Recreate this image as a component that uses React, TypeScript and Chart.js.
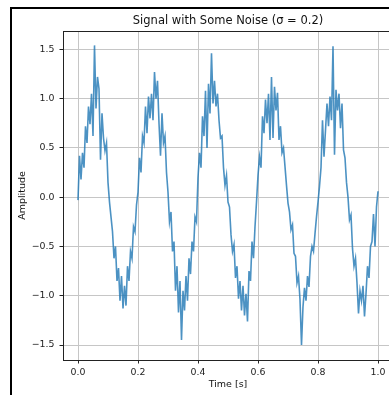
import React, { useEffect, useRef } from "react";
import { Chart, registerables } from "chart.js";

Chart.register(...registerables);

// Sampling interval of the signal (seconds)
const TIME_STEP = 0.005;

// Amplitude, one cycle (0.2 s) per array
const cycle1 = [-0.03, 0.42, 0.18, 0.45, 0.3, 0.72, 0.55, 0.92, 0.74, 1.05, 0.62, 1.54, 0.9, 1.22, 1.1, 0.38, 0.85, 0.6, 0.47, 0.55, 0.15, -0.05, -0.2, -0.35, -0.62, -0.5, -0.85, -0.72, -1.05, -0.8, -1.13, -0.9, -1.1, -0.7, -0.85, -0.55, -0.62, -0.3, -0.35, -0.08];
const cycle2 = [0.05, 0.4, 0.25, 0.62, 0.55, 0.92, 0.65, 1.02, 0.8, 1.05, 0.78, 1.27, 1.0, 1.18, 0.75, 0.42, 0.85, 0.55, 0.62, 0.25, 0.05, -0.25, -0.15, -0.55, -0.45, -0.95, -0.7, -1.17, -0.85, -1.45, -0.95, -1.15, -0.8, -1.05, -0.62, -0.78, -0.45, -0.55, -0.2, -0.25];
const cycle3 = [0.2, 0.45, 0.3, 0.82, 0.62, 1.08, 0.5, 1.15, 0.85, 1.46, 0.95, 1.18, 0.92, 1.05, 0.78, 0.6, 0.62, 0.3, 0.12, 0.22, -0.05, -0.1, -0.38, -0.55, -0.48, -0.82, -0.7, -1.03, -0.85, -1.15, -0.9, -1.2, -0.98, -1.26, -0.75, -0.85, -0.45, -0.62, -0.3, -0.05];
const cycle4 = [0.22, 0.41, 0.3, 0.82, 0.65, 0.99, 0.75, 1.05, 0.58, 1.22, 0.6, 1.12, 0.88, 1.06, 0.58, 0.72, 0.45, 0.5, 0.31, 0.12, -0.06, -0.15, -0.33, -0.28, -0.57, -0.6, -0.87, -0.8, -1.04, -1.5, -1.11, -0.92, -1.05, -0.8, -0.91, -0.6, -0.5, -0.55, -0.37, -0.2];
const cycle5 = [-0.05, 0.11, 0.3, 0.78, 0.41, 0.68, 0.95, 0.72, 1.02, 0.78, 1.53, 0.43, 1.09, 0.88, 1.05, 0.7, 0.95, 0.48, 0.4, 0.15, 0.0, -0.23, -0.18, -0.52, -0.7, -0.62, -0.87, -1.18, -0.95, -1.05, -0.9, -1.21, -0.98, -0.7, -0.82, -0.5, -0.45, -0.17, -0.5, -0.1, 0.06];

const amplitude = [...cycle1, ...cycle2, ...cycle3, ...cycle4, ...cycle5];

const xTicks = [0, 0.2, 0.4, 0.6, 0.8, 1.0];
const yTicks = [-1.5, -1.0, -0.5, 0, 0.5, 1.0, 1.5];
const X_MIN = -0.05;
const X_MAX = 1.05;
const Y_MIN = -1.652;
const Y_MAX = 1.686;

const TITLE = "Signal with Some Noise (σ = 0.2)";
const X_LABEL = "Time [s]";
const Y_LABEL = "Amplitude";

const fmt = (v: number) => (v < 0 ? "\u2212" + Math.abs(v).toFixed(1) : v.toFixed(1));

const FONT = "'DejaVu Sans', sans-serif";

const framePlugin = {
  id: "frame",
  afterDatasetsDraw(chart: any) {
    const { ctx, chartArea } = chart;
    ctx.save();
    ctx.strokeStyle = "#222";
    ctx.lineWidth = 1;
    ctx.strokeRect(
      Math.round(chartArea.left) + 0.5,
      Math.round(chartArea.top) + 0.5,
      Math.round(chartArea.right - chartArea.left),
      Math.round(chartArea.bottom - chartArea.top)
    );
    ctx.restore();
  },
};

export default function App() {
  const ref = useRef<HTMLCanvasElement | null>(null);

  useEffect(() => {
    if (!ref.current) return;
    const points = amplitude.map((y, i) => ({ x: i * TIME_STEP, y }));
    const chart = new Chart(ref.current, {
      type: "line",
      data: {
        datasets: [
          {
            data: points,
            borderColor: "rgba(31,119,180,0.8)",
            borderWidth: 1.6,
            pointRadius: 0,
            tension: 0,
            fill: false,
          },
        ],
      },
      options: {
        animation: false,
        responsive: false,
        maintainAspectRatio: false,
        layout: { padding: { left: 0, top: 0, right: 17, bottom: 0 } },
        plugins: {
          legend: { display: false },
          tooltip: { enabled: false },
          title: {
            display: true,
            text: TITLE,
            fullSize: false,
            color: "#111",
            font: { family: FONT, size: 11.5, weight: "normal" },
            padding: { top: 14, bottom: 3.2 },
          },
        },
        scales: {
          x: {
            type: "linear",
            min: X_MIN,
            max: X_MAX,
            afterBuildTicks: (scale: any) => {
              scale.ticks = xTicks.map((v) => ({ value: v }));
            },
            afterFit: (scale: any) => {
              scale.height = 35;
              scale.paddingLeft = 0;
              scale.paddingRight = 0;
            },
            ticks: {
              callback: (v: any) => fmt(Number(v)),
              color: "#222",
              font: { family: FONT, size: 9.4 },
              padding: 3,
              maxRotation: 0,
              autoSkip: false,
            },
            grid: {
              color: "#c6c6c6",
              lineWidth: 1,
              tickColor: "#222",
              tickLength: 3.5,
            },
            border: { display: true, color: "#222", width: 1 },
            title: {
              display: true,
              text: X_LABEL,
              color: "#111",
              font: { family: FONT, size: 9.5 },
              padding: { top: 0, bottom: 4.3 },
            },
          },
          y: {
            type: "linear",
            min: Y_MIN,
            max: Y_MAX,
            afterBuildTicks: (scale: any) => {
              scale.ticks = yTicks.map((v) => ({ value: v }));
            },
            afterFit: (scale: any) => {
              scale.width = 63;
              scale.paddingTop = 0;
              scale.paddingBottom = 0;
            },
            ticks: {
              callback: (v: any) => fmt(Number(v)),
              color: "#222",
              font: { family: FONT, size: 9.4 },
              padding: 5,
              autoSkip: false,
            },
            grid: {
              color: "#c6c6c6",
              lineWidth: 1,
              tickColor: "#222",
              tickLength: 3.5,
            },
            border: { display: true, color: "#222", width: 1 },
            title: {
              display: true,
              text: Y_LABEL,
              color: "#111",
              font: { family: FONT, size: 9.5 },
              padding: { top: 16.8, bottom: 0 },
            },
          },
        },
      },
      plugins: [framePlugin],
    });
    return () => chart.destroy();
  }, []);

  return (
    <div
      style={{
        position: "fixed",
        left: 0,
        top: 0,
        width: 389,
        height: 395,
        overflow: "hidden",
        background: "#fff",
      }}
    >
      <canvas
        ref={ref}
        width={410}
        height={395}
        style={{ position: "absolute", left: 0, top: 0, width: 410, height: 395 }}
      />
      <div
        style={{
          position: "absolute",
          left: 10,
          top: 7,
          width: 500,
          height: 500,
          borderLeft: "2px solid #000",
          borderTop: "2px solid #000",
          pointerEvents: "none",
        }}
      />
    </div>
  );
}
